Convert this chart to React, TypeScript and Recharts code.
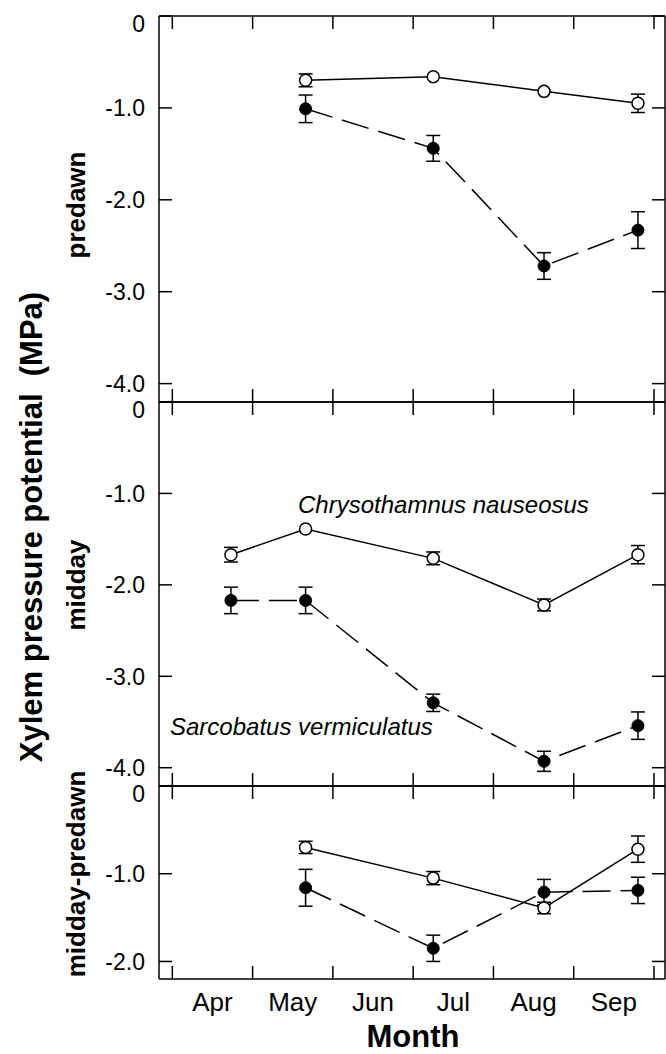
import { LineChart, Line, XAxis, YAxis, ErrorBar } from "recharts";

const FONT = '"Liberation Sans", Arial, Helvetica, sans-serif';

// x values are month numbers (4 = 1 Apr, 10 = 1 Oct)
const monthNames = ["Apr", "May", "Jun", "Jul", "Aug", "Sep"];
const monthMids = [4.5, 5.5, 6.5, 7.5, 8.5, 9.5];
const monthStarts = [4, 5, 6, 7, 8, 9, 10];

const sampleDates = [5.66, 7.25, 8.63, 9.8];
const sampleDatesMidday = [4.73, 5.66, 7.25, 8.63, 9.8];

// predawn
const predawnChry = [-0.7, -0.66, -0.82, -0.95];
const predawnChryErr = [0.07, null, null, 0.1];
const predawnSarc = [-1.01, -1.44, -2.72, -2.33];
const predawnSarcErr = [0.15, 0.14, 0.145, 0.2];

// midday
const middayChry = [-1.67, -1.39, -1.71, -2.22, -1.67];
const middayChryErr = [0.08, null, 0.07, 0.065, 0.1];
const middaySarc = [-2.17, -2.17, -3.29, -3.93, -3.54];
const middaySarcErr = [0.145, 0.145, 0.095, 0.11, 0.15];

// midday - predawn
const diffChry = [-0.7, -1.05, -1.39, -0.72];
const diffChryErr = [0.07, 0.075, 0.065, 0.15];
const diffSarc = [-1.16, -1.85, -1.21, -1.19];
const diffSarcErr = [0.21, 0.15, 0.145, 0.15];

const ticksDeep = [0, -1, -2, -3, -4];
const ticksShallow = [0, -1, -2];

const xDomain: [number, number] = [3.834, 10.137];

type Row = {
  m: number;
  chry: number;
  chryErr: number | null;
  sarc: number;
  sarcErr: number | null;
};

function makeRows(
  m: number[],
  chry: number[],
  chryErr: (number | null)[],
  sarc: number[],
  sarcErr: (number | null)[]
): Row[] {
  return m.map((x, i) => ({
    m: x,
    chry: chry[i],
    chryErr: chryErr[i],
    sarc: sarc[i],
    sarcErr: sarcErr[i],
  }));
}

const predawnRows = makeRows(sampleDates, predawnChry, predawnChryErr, predawnSarc, predawnSarcErr);
const middayRows = makeRows(sampleDatesMidday, middayChry, middayChryErr, middaySarc, middaySarcErr);
const diffRows = makeRows(sampleDates, diffChry, diffChryErr, diffSarc, diffSarcErr);

const ink = { stroke: "#000", strokeWidth: 1.5 };

// tick marks only, no label
const NoLabel = () => <g />;

function YTick(props: any) {
  const { x, y, payload } = props;
  const v = payload.value as number;
  return (
    <text
      x={x}
      y={y + (v === 0 ? 8 : 0)}
      dy="0.36em"
      textAnchor="end"
      fontSize={23}
      fontFamily={FONT}
      fill="#000"
    >
      {v === 0 ? "0" : v.toFixed(1)}
    </text>
  );
}

interface PanelProps {
  data: Row[];
  yDomain: [number, number];
  yTicks: number[];
  top: number;
  height: number;
  marginTop: number;
  marginBottom: number;
  showMonths?: boolean;
}

function Panel({ data, yDomain, yTicks, top, height, marginTop, marginBottom, showMonths }: PanelProps) {
  return (
    <div style={{ position: "absolute", left: 0, top }}>
      <LineChart
        width={666}
        height={height}
        data={data}
        margin={{ top: marginTop, right: 1, bottom: marginBottom, left: 0 }}
      >
        <XAxis
          xAxisId="b"
          dataKey="m"
          type="number"
          domain={xDomain}
          allowDataOverflow
          ticks={monthStarts}
          interval={0}
          orientation="bottom"
          mirror
          tick={NoLabel}
          tickSize={13}
          tickLine={ink}
          axisLine={ink}
        />
        <XAxis
          xAxisId="t"
          dataKey="m"
          type="number"
          domain={xDomain}
          allowDataOverflow
          ticks={monthStarts}
          interval={0}
          orientation="top"
          mirror
          tick={NoLabel}
          tickSize={13}
          tickLine={ink}
          axisLine={ink}
        />
        {showMonths && (
          <XAxis
            xAxisId="lab"
            dataKey="m"
            type="number"
            domain={xDomain}
            allowDataOverflow
            ticks={monthMids}
            interval={0}
            orientation="bottom"
            height={75}
            tickLine={false}
            axisLine={false}
            tickSize={0}
            tickMargin={14}
            tickFormatter={(v: number) => monthNames[monthMids.indexOf(v)]}
            tick={{ fontSize: 26, fontFamily: FONT, fill: "#000" }}
          />
        )}
        <YAxis
          yAxisId="l"
          type="number"
          domain={yDomain}
          allowDataOverflow
          ticks={yTicks}
          interval={0}
          width={159}
          tickLine={false}
          axisLine={false}
          tickSize={0}
          tickMargin={14}
          tick={<YTick />}
        />
        <YAxis
          yAxisId="lt"
          type="number"
          domain={yDomain}
          allowDataOverflow
          ticks={yTicks}
          interval={0}
          mirror
          tick={NoLabel}
          tickSize={13}
          tickLine={ink}
          axisLine={ink}
        />
        <YAxis
          yAxisId="r"
          orientation="right"
          type="number"
          domain={yDomain}
          allowDataOverflow
          ticks={yTicks}
          interval={0}
          mirror
          tick={NoLabel}
          tickSize={13}
          tickLine={ink}
          axisLine={ink}
        />
        <Line
          xAxisId="b"
          yAxisId="l"
          type="linear"
          dataKey="sarc"
          stroke="#000"
          strokeWidth={1.5}
          strokeDasharray="28 10"
          dot={{ r: 6, fill: "#000", stroke: "#000", strokeWidth: 1, strokeDasharray: "none" }}
          activeDot={false}
          isAnimationActive={false}
        >
          <ErrorBar dataKey="sarcErr" direction="y" width={7} stroke="#000" strokeWidth={1.5} />
        </Line>
        <Line
          xAxisId="b"
          yAxisId="l"
          type="linear"
          dataKey="chry"
          stroke="#000"
          strokeWidth={1.5}
          dot={{ r: 6, fill: "#fff", stroke: "#000", strokeWidth: 1.5 }}
          activeDot={false}
          isAnimationActive={false}
        >
          <ErrorBar dataKey="chryErr" direction="y" width={7} stroke="#000" strokeWidth={1.5} />
        </Line>
      </LineChart>
    </div>
  );
}

export default function App() {
  return (
    <div
      style={{
        position: "absolute",
        left: 0,
        top: 0,
        width: 666,
        height: 1054,
        overflow: "hidden",
        background: "#fff",
        fontFamily: FONT,
      }}
    >
      <Panel data={predawnRows} yDomain={[-4.2, 0]} yTicks={ticksDeep} top={0} height={412} marginTop={16} marginBottom={10} />
      <Panel data={middayRows} yDomain={[-4.2, 0]} yTicks={ticksDeep} top={392} height={404} marginTop={10} marginBottom={10} />
      <Panel
        data={diffRows}
        yDomain={[-2.2, 0]}
        yTicks={ticksShallow}
        top={776}
        height={278}
        marginTop={10}
        marginBottom={0}
        showMonths
      />
      <svg
        width={666}
        height={1054}
        style={{ position: "absolute", left: 0, top: 0, pointerEvents: "none" }}
        fontFamily={FONT}
      >
        <text
          transform="translate(42 527) rotate(-90)"
          textAnchor="middle"
          fontSize={31}
          fontWeight="bold"
          style={{ whiteSpace: "pre" }}
        >
          {"Xylem pressure potential  (MPa)"}
        </text>
        <text transform="translate(85 205) rotate(-90)" textAnchor="middle" fontSize={26} fontWeight="bold">
          predawn
        </text>
        <text transform="translate(85 585) rotate(-90)" textAnchor="middle" fontSize={26} fontWeight="bold">
          midday
        </text>
        <text transform="translate(85 874) rotate(-90)" textAnchor="middle" fontSize={26} fontWeight="bold">
          midday-predawn
        </text>
        <text x={298} y={513} fontSize={24} fontStyle="italic">
          Chrysothamnus nauseosus
        </text>
        <text x={170} y={735} fontSize={24} fontStyle="italic">
          Sarcobatus vermiculatus
        </text>
        <text x={413} y={1047} textAnchor="middle" fontSize={31} fontWeight="bold">
          Month
        </text>
      </svg>
    </div>
  );
}
